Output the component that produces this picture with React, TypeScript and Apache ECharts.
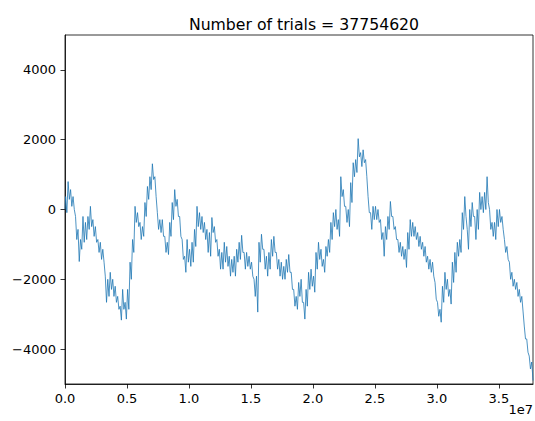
import React, { useEffect, useRef } from "react";
import * as echarts from "echarts";

const TOTAL_TRIALS = 37754620;
const SAMPLE_STEP = 200000;
const TITLE = "Number of trials = " + TOTAL_TRIALS;
const X_TICKS = [0, 5e6, 1e7, 1.5e7, 2e7, 2.5e7, 3e7, 3.5e7];
const Y_TICKS = [-4000, -2000, 0, 2000, 4000];

// running sum (heads minus tails): for every window of
// SAMPLE_STEP trials, the highest and the lowest value the walk reaches in it
const WALK_HIGH = [
  370, 800, 570, 370, -200, -570, -860, -200, -370, -200,
  90, -290, -490, -860, -940, -1140, -1910, -2000, -1800, -2000,
  -2200, -2490, -2770, -2290, -2660, -2290, -1510, -860, 90, -90,
  -370, -490, 200, 660, 940, 1310, 940, -90, -290, -290,
  -770, -940, -370, 200, 570, 290, -200, -860, -1340, -860,
  -1140, -940, -570, 90, -90, -200, -370, -570, -660, -230,
  -490, -860, -1140, -1230, -940, -1060, -1340, -1430, -1340, -1140,
  -940, -740, -1230, -1230, -1340, -1510, -2000, -1910, -940, -710,
  -1140, -1340, -1230, -860, -770, -1230, -1430, -1510, -1630, -1430,
  -1290, -1800, -2290, -2490, -2090, -2000, -2660, -2290, -1800, -1710,
  -1910, -1230, -940, -1140, -1430, -1060, -860, -370, -90, 0,
  -290, 940, 570, 90, 0, 770, 1340, 1430, 2030, 1630,
  1710, 1430, 370, -90, 90, 90, 0, -290, -660, -490,
  -200, 230, -200, -490, -860, -940, -1060, -1140, -660, -290,
  -370, -490, -660, -770, -940, -1060, -1340, -1430, -1510, -2090,
  -2660, -2860, -2200, -1800, -2000, -2290, -1510, -1230, -940, -860,
  -90, 370, -570, 0, 200, -200, 0, 490, 370, 490,
  940, 0, -370, -370, 0, 0, -200, -860, -1060, -1510,
  -1800, -2000, -2090, -2290, -2490, -3340, -3710, -4200, -4370,
];
const WALK_LOW = [
  -90, 290, 90, 0, -860, -1490, -1140, -940, -860, -570,
  -490, -770, -940, -1230, -1430, -1510, -2660, -2490, -2290, -2490,
  -2660, -2860, -3170, -2860, -3140, -2860, -2000, -1230, -370, -490,
  -860, -770, -200, 290, 570, 860, 370, -570, -660, -770,
  -1230, -1290, -770, -290, 90, -200, -770, -1430, -1800, -1510,
  -1630, -1510, -1060, -490, -570, -660, -860, -1230, -1340, -660,
  -940, -1340, -1710, -1710, -1510, -1630, -1910, -1800, -1910, -1510,
  -1430, -1230, -1710, -1630, -1710, -1910, -2490, -2940, -1510, -1140,
  -1710, -1910, -1710, -1340, -1230, -1710, -1910, -2000, -2000, -1800,
  -1800, -2290, -2770, -2860, -2490, -2660, -3140, -2770, -2290, -2200,
  -2370, -1710, -1430, -1630, -1800, -1340, -1230, -860, -490, -570,
  -770, 370, 90, -370, -490, 200, 940, 1060, 1510, 1230,
  1340, 940, -90, -570, -290, -290, -370, -860, -1340, -860,
  -570, -200, -570, -860, -1230, -1340, -1430, -1660, -1140, -770,
  -770, -860, -1060, -1140, -1340, -1510, -1710, -1800, -1910, -2570,
  -3060, -3230, -2660, -2290, -2490, -2710, -2090, -1800, -1340, -1230,
  -570, -200, -1140, -490, -200, -860, -570, 0, -90, 0,
  200, -570, -770, -860, -490, -370, -570, -1230, -1430, -2000,
  -2200, -2290, -2490, -2660, -2910, -3710, -4090, -4570, -4860,
];
const FINAL_VALUE = -4900;

const FONT = "DejaVu Sans";

export default function App() {
  const ref = useRef<HTMLDivElement>(null);
  useEffect(() => {
    if (!ref.current) return;
    const chart = echarts.init(ref.current, null, { renderer: "svg" });
    const points: [number, number][] = [[0, 0]];
    WALK_HIGH.forEach((hi, i) => {
      const x0 = i * SAMPLE_STEP;
      points.push([x0 + SAMPLE_STEP * 0.25, hi]);
      points.push([x0 + SAMPLE_STEP * 0.75, WALK_LOW[i]]);
    });
    points.push([TOTAL_TRIALS, FINAL_VALUE]);
    const minus = (s: string) => s.replace("-", "\u2212");
    chart.setOption({
      animation: false,
      backgroundColor: "#ffffff",
      title: {
        text: TITLE,
        left: 299,
        textAlign: "center",
        top: 11,
        textStyle: { fontFamily: FONT, fontSize: 15.7, fontWeight: "normal", color: "#000" },
      },
      grid: {
        left: 65,
        right: 2,
        top: 35,
        bottom: 37,
        show: true,
        borderColor: "#000",
        borderWidth: 0.8,
        backgroundColor: "transparent",
      },
      xAxis: {
        type: "value",
        min: 0,
        max: TOTAL_TRIALS,
        interval: 5e6,
        splitLine: { show: false },
        axisLine: { show: true, onZero: false, lineStyle: { color: "#000", width: 0.8 } },
        axisTick: { show: true, length: 4.5, inside: false, customValues: X_TICKS, lineStyle: { color: "#000", width: 0.8 } },
        axisLabel: {
          customValues: X_TICKS,
          margin: 8,
          fontFamily: FONT,
          fontSize: 13,
          color: "#000",
          formatter: (v: number) => (v / 1e7).toFixed(1),
        },
      },
      yAxis: {
        type: "value",
        min: -5000,
        max: 5000,
        interval: 1000,
        splitLine: { show: false },
        axisLine: { show: true, onZero: false, lineStyle: { color: "#000", width: 0.8 } },
        axisTick: { show: true, length: 4.5, customValues: Y_TICKS, lineStyle: { color: "#000", width: 0.8 } },
        axisLabel: {
          customValues: Y_TICKS,
          margin: 9,
          fontFamily: FONT,
          fontSize: 13,
          color: "#000",
          formatter: (v: number) => minus(String(v)),
        },
      },
      graphic: [
        {
          type: "text",
          right: 2,
          top: 403,
          style: { text: "1e7", fontFamily: FONT, fontSize: 13, fill: "#000" },
        },
      ],
      series: [
        {
          type: "line",
          data: points,
          showSymbol: false,
          symbol: "none",
          lineStyle: { color: "#1f77b4", width: 0.8 },
          clip: true,
        },
      ],
    });
    return () => chart.dispose();
  }, []);
  return (
    <div
      ref={ref}
      style={{ position: "fixed", left: 0, top: 0, width: 535, height: 421 }}
    />
  );
}
